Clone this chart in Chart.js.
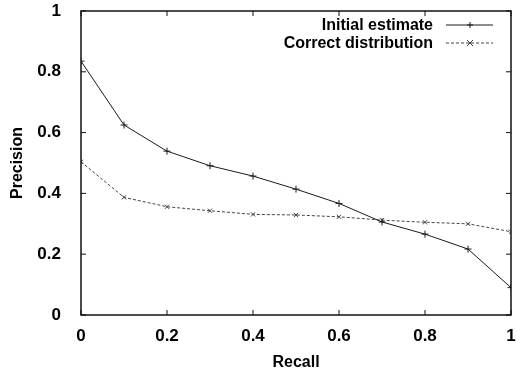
<!DOCTYPE html>
<html>
<head>
<meta charset="utf-8">
<script src="https://cdn.jsdelivr.net/npm/chart.js@4/dist/chart.umd.min.js"></script>
<style>
  html, body { margin: 0; padding: 0; background: #fff; }
  #wrap { width: 516px; height: 372px; }
</style>
</head>
<body>
<div id="wrap"><canvas id="chart" width="516" height="372"></canvas></div>
<script>
// Data
const recall = [0, 0.1, 0.2, 0.3, 0.4, 0.5, 0.6, 0.7, 0.8, 0.9, 1.0];
const initialEstimate = [0.835, 0.625, 0.539, 0.491, 0.457, 0.414, 0.367, 0.306, 0.266, 0.217, 0.09];
const correctDistribution = [0.504, 0.387, 0.356, 0.343, 0.331, 0.329, 0.323, 0.312, 0.305, 0.300, 0.274];
const tickValues = [0, 0.2, 0.4, 0.6, 0.8, 1];
const seriesNames = ['Initial estimate', 'Correct distribution'];

const FONT = 'Liberation Sans, Arial, Helvetica, sans-serif';
const FSIZE = 16;

function pairs(ys) {
  return recall.map((x, i) => ({ x: x, y: ys[i] }));
}

function fmt(v) {
  return String(Math.round(v * 10) / 10);
}

// frame with inward ticks on all four sides
const framePlugin = {
  id: 'frame',
  afterDraw(chart) {
    const { ctx, chartArea: a, scales } = chart;
    ctx.save();
    ctx.strokeStyle = '#111';
    ctx.lineWidth = 1.5;
    ctx.strokeRect(a.left, a.top, a.right - a.left, a.bottom - a.top);
    ctx.lineWidth = 1;
    const t = 5;
    tickValues.forEach(v => {
      const px = scales.x.getPixelForValue(v);
      ctx.beginPath();
      ctx.moveTo(px, a.bottom); ctx.lineTo(px, a.bottom - t);
      ctx.moveTo(px, a.top); ctx.lineTo(px, a.top + t);
      ctx.stroke();
      const py = scales.y.getPixelForValue(v);
      ctx.beginPath();
      ctx.moveTo(a.left, py); ctx.lineTo(a.left + t, py);
      ctx.moveTo(a.right, py); ctx.lineTo(a.right - t, py);
      ctx.stroke();
    });
    ctx.restore();
  }
};

// gnuplot style key: text right aligned, then a line sample
const keyPlugin = {
  id: 'key',
  afterDatasetsDraw(chart) {
    const { ctx } = chart;
    ctx.save();
    ctx.font = 'bold ' + FSIZE + 'px ' + FONT;
    ctx.textAlign = 'right';
    ctx.textBaseline = 'middle';
    chart.data.datasets.forEach((ds, i) => {
      const y = 25 + i * 18;
      ctx.fillStyle = '#000';
      ctx.fillText(ds.label, 433, y + 1);
      ctx.strokeStyle = ds.borderColor;
      ctx.lineWidth = ds.borderWidth;
      ctx.setLineDash(ds.borderDash || []);
      ctx.beginPath();
      ctx.moveTo(446, y); ctx.lineTo(493, y);
      ctx.stroke();
      ctx.setLineDash([]);
      const mx = 470, r = 3;
      ctx.beginPath();
      if (ds.pointStyle === 'cross') {
        ctx.moveTo(mx - r, y); ctx.lineTo(mx + r, y);
        ctx.moveTo(mx, y - r); ctx.lineTo(mx, y + r);
      } else {
        ctx.moveTo(mx - r, y - r); ctx.lineTo(mx + r, y + r);
        ctx.moveTo(mx - r, y + r); ctx.lineTo(mx + r, y - r);
      }
      ctx.stroke();
    });
    ctx.restore();
  }
};

const tickFont = { family: FONT, size: 17, weight: 'bold' };
const titleFont = { family: FONT, size: FSIZE, weight: 'bold' };

new Chart(document.getElementById('chart'), {
  type: 'line',
  data: {
    datasets: [
      {
        label: seriesNames[0],
        data: pairs(initialEstimate),
        borderColor: '#1a1a1a',
        borderWidth: 1,
        pointStyle: 'cross',
        pointRadius: 3.5,
        pointBorderColor: '#1a1a1a',
        pointBorderWidth: 1,
        tension: 0
      },
      {
        label: seriesNames[1],
        data: pairs(correctDistribution),
        borderColor: '#444',
        borderWidth: 1,
        borderDash: [3, 2],
        pointStyle: 'crossRot',
        pointRadius: 3,
        pointBorderColor: '#444',
        pointBorderWidth: 1,
        tension: 0
      }
    ]
  },
  options: {
    responsive: false,
    animation: false,
    layout: { padding: { top: 11, right: 1, left: 0, bottom: 0 } },
    plugins: { legend: { display: false }, tooltip: { enabled: false } },
    scales: {
      x: {
        type: 'linear',
        min: 0, max: 1,
        grid: { display: false },
        border: { display: false },
        afterBuildTicks: s => { s.ticks = tickValues.map(v => ({ value: v })); },
        afterFit: s => { s.height = 57; s.paddingLeft = 0; s.paddingRight = 0; },
        ticks: { color: '#000', padding: 3, maxRotation: 0, font: tickFont, callback: v => fmt(v) },
        title: { display: true, text: 'Recall', color: '#000', padding: { top: 2, bottom: 0 }, font: titleFont }
      },
      y: {
        type: 'linear',
        min: 0, max: 1,
        grid: { display: false },
        border: { display: false },
        afterBuildTicks: s => { s.ticks = tickValues.map(v => ({ value: v })); },
        afterFit: s => { s.width = 81; s.paddingTop = 0; s.paddingBottom = 0; },
        ticks: { color: '#000', padding: 12, font: tickFont, callback: v => fmt(v) },
        title: { display: true, text: 'Precision', color: '#000', padding: { top: 8, bottom: 0 }, font: titleFont }
      }
    }
  },
  plugins: [framePlugin, keyPlugin]
});
</script>
</body>
</html>
